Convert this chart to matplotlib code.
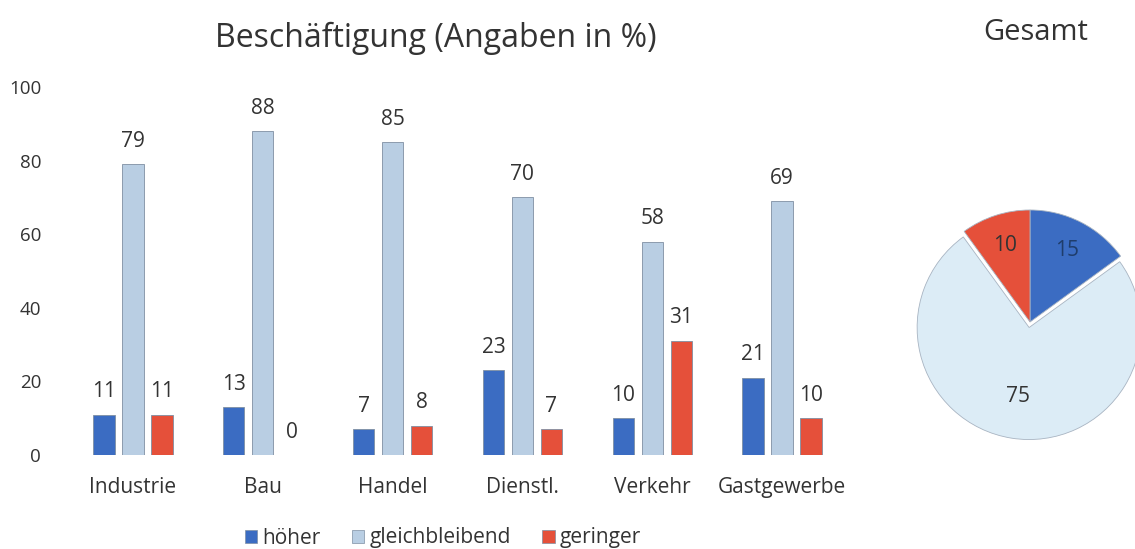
import matplotlib.pyplot as plt
import numpy as np
from matplotlib.patches import Patch

plt.rcParams['font.family'] = ['Open Sans', 'DejaVu Sans']

categories = ['Industrie', 'Bau', 'Handel', 'Dienstl.', 'Verkehr', 'Gastgewerbe']
hoeher = [11, 13, 7, 23, 10, 21]
gleich = [79, 88, 85, 70, 58, 69]
geringer = [11, 0, 8, 7, 31, 10]

series_names = ['höher', 'gleichbleibend', 'geringer']
pie_values = [15, 75, 10]

blue = '#3b6cc2'
lightblue = '#b9cee3'
red = '#e5503a'
pie_light = '#dcecf6'
text_col = '#333333'

W, H = 1135, 549
fig = plt.figure(figsize=(W / 100, H / 100), dpi=100)

# bar chart axes, placed in pixel terms
left_px, right_px = 55.0, 860.0
bottom_px, top_px = 455, 87
ax = fig.add_axes([left_px / W, 1 - bottom_px / H, (right_px - left_px) / W, (bottom_px - top_px) / H])

x = np.arange(len(categories))
w = 0.165
off = 0.223
groups = [(hoeher, blue, -off), (gleich, lightblue, 0), (geringer, red, off)]
for vals, col, o in groups:
    bars = ax.bar(x + o, vals, width=w, color=col, edgecolor='#7f8fa3', linewidth=0.6)
    for b, v in zip(bars, vals):
        ax.annotate(str(v), (b.get_x() + b.get_width() / 2, v), xytext=(0, 9), textcoords='offset points',
                    ha='center', va='bottom', fontsize=15, color=text_col)

ax.set_xlim(-0.6, 5.6)
ax.set_ylim(0, 100)
ax.set_yticks([0, 20, 40, 60, 80, 100])
ax.set_xticks(x)
ax.set_xticklabels(categories, fontsize=15)
ax.tick_params(length=0, labelcolor=text_col)
ax.tick_params(axis='y', pad=10, labelsize=13.5)
ax.tick_params(axis='x', pad=16)
for s in ax.spines.values():
    s.set_visible(False)

fig.text(436 / W, 1 - 38 / H, 'Beschäftigung (Angaben in %)', ha='center', va='center',
         fontsize=23, color=text_col)
fig.text(1036 / W, 1 - 33 / H, 'Gesamt', ha='center', va='center', fontsize=21, color=text_col)

# pie
r_px = 112
cx, cy = 1030, 322
ax2 = fig.add_axes([(cx - r_px) / W, 1 - (cy + r_px) / H, 2 * r_px / W, 2 * r_px / H])
wedges, texts = ax2.pie(pie_values, colors=[blue, pie_light, red], startangle=90, counterclock=False,
                        explode=[0, 0.05, 0], labels=[str(v) for v in pie_values], labeldistance=0.72,
                        wedgeprops=dict(edgecolor='#a8b4c2', linewidth=0.6))
for t in texts:
    t.set_ha('center')
    t.set_fontsize(15)
    t.set_color(text_col)
texts[0].set_color('#1f3d6b')
# pull the big slice label a bit closer to the centre
px, py = texts[1].get_position()
texts[1].set_position((px * 0.88, py * 0.88))
ax2.set_xlim(-1, 1)
ax2.set_ylim(-1, 1)
ax2.set_aspect('equal')

handles = [Patch(facecolor=c, edgecolor='#7f8fa3', linewidth=0.5) for c in [blue, lightblue, red]]
fig.legend(handles, series_names, loc='center', bbox_to_anchor=(443 / W, 1 - 538 / H), ncol=3,
           frameon=False, fontsize=15, handlelength=0.6, handleheight=0.6, handletextpad=0.25,
           columnspacing=1.5, labelcolor=text_col)

fig.savefig('out.png', dpi=100)
